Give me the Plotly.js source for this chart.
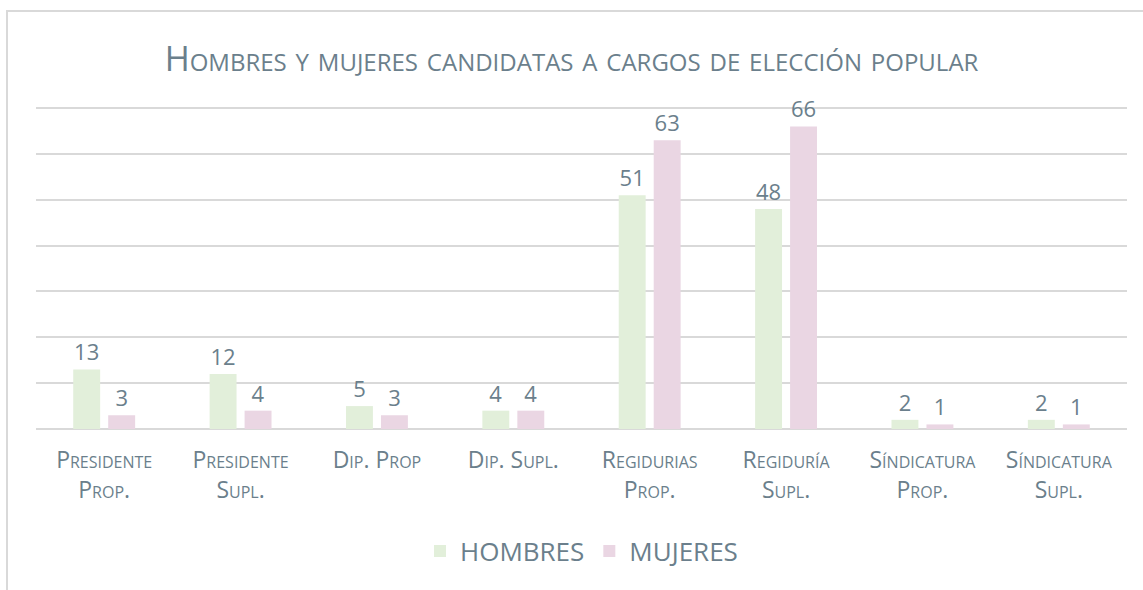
<!DOCTYPE html>
<html>
<head>
<meta charset="utf-8">
<script src="https://cdn.plot.ly/plotly-3.0.1.min.js"></script>
<style>
html,body{margin:0;padding:0;background:#fff;overflow:hidden;}
#wrap{position:relative;width:1143px;height:590px;}
#frame{position:absolute;left:6px;top:10px;width:1300px;height:700px;border-left:2px solid #d9d9d9;border-top:2px solid #d9d9d9;pointer-events:none;}
#chart{position:absolute;left:0;top:0;width:1143px;height:590px;}
</style>
</head>
<body>
<div id="wrap">
<div id="chart"></div>
<div id="frame"></div>
</div>
<script>
const categories = ["Presidente<br>Prop.", "Presidente<br>Supl.", "Dip. Prop", "Dip. Supl.", "Regidurias<br>Prop.", "Regiduría<br>Supl.", "Síndicatura<br>Prop.", "Síndicatura<br>Supl."];
const hombres = [13, 12, 5, 4, 51, 48, 2, 2];
const mujeres = [3, 4, 3, 4, 63, 66, 1, 1];
const seriesNames = ["HOMBRES", "MUJERES"];
const titleText = "Hombres y mujeres candidatas a cargos de elección popular";
const gridValues = [0, 10, 20, 30, 40, 50, 60, 70];

const txtColor = "#6b7f8c";
const fontFam = "'Open Sans', Lato, sans-serif";

const traces = [
  {type: "bar", name: seriesNames[0], x: categories, y: hombres, marker: {color: "#e2efda"},
   text: hombres.map(String), textposition: "outside", cliponaxis: false,
   textfont: {family: fontFam, size: 22, color: txtColor}},
  {type: "bar", name: seriesNames[1], x: categories, y: mujeres, marker: {color: "#ead6e3"},
   text: mujeres.map(String), textposition: "outside", cliponaxis: false,
   textfont: {family: fontFam, size: 22, color: txtColor}}
];

const layout = {
  width: 1143, height: 590,
  margin: {l: 36, r: 16, t: 106, b: 161},
  paper_bgcolor: "rgba(0,0,0,0)", plot_bgcolor: "rgba(0,0,0,0)",
  font: {family: fontFam, color: txtColor},
  title: {text: titleText, x: 0.5, xanchor: "center", y: 0.9, yanchor: "middle", yref: "container",
          font: {family: fontFam, size: 34, color: txtColor, variant: "small-caps"}},
  barmode: "group", bargap: 0.487, bargroupgap: 0.23,
  showlegend: true,
  legend: {orientation: "h", x: 0.5, xanchor: "center", y: -0.378, yanchor: "middle",
           font: {family: fontFam, size: 26, color: txtColor}, itemwidth: 30, tracegroupgap: 0},
  xaxis: {type: "category", showgrid: false, showline: false, zeroline: false, ticks: "",
          tickfont: {family: fontFam, size: 23, color: txtColor, variant: "small-caps"},
          ticklabelstandoff: 15, fixedrange: true},
  yaxis: {range: [0, 70.45], tickvals: gridValues, showgrid: true, gridcolor: "#d9d9d9", gridwidth: 2,
          zeroline: true, zerolinecolor: "#d9d9d9", zerolinewidth: 2,
          showticklabels: false, ticks: "", showline: false, fixedrange: true}
};

Plotly.newPlot("chart", traces, layout, {displayModeBar: false, staticPlot: true});
</script>
</body>
</html>
